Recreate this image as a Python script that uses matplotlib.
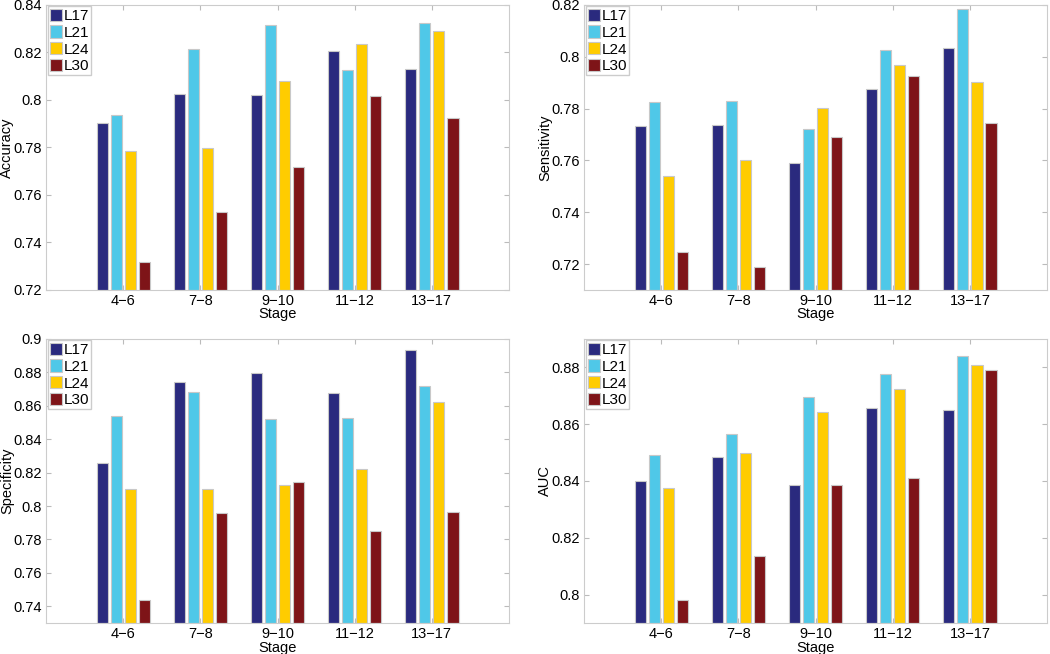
import numpy as np
import matplotlib
matplotlib.use('Agg')
import matplotlib.pyplot as plt

stages = ['4\u22126', '7\u22128', '9\u221210', '11\u221212', '13\u221217']
series = ['L17', 'L21', 'L24', 'L30']
colors = ['#2a2a7e', '#4fc8e8', '#ffcc00', '#7e1418']

accuracy_L17 = [0.7903, 0.8027, 0.8020, 0.8205, 0.8131]
accuracy_L21 = [0.7937, 0.8215, 0.8317, 0.8126, 0.8326]
accuracy_L24 = [0.7784, 0.7796, 0.8080, 0.8236, 0.8289]
accuracy_L30 = [0.7316, 0.7527, 0.7716, 0.8018, 0.7923]

sensitivity_L17 = [0.7734, 0.7735, 0.7591, 0.7874, 0.8035]
sensitivity_L21 = [0.7824, 0.7829, 0.7720, 0.8025, 0.8183]
sensitivity_L24 = [0.7538, 0.7601, 0.7803, 0.7967, 0.7904]
sensitivity_L30 = [0.7246, 0.7190, 0.7691, 0.7926, 0.7745]

specificity_L17 = [0.8260, 0.8741, 0.8795, 0.8675, 0.8936]
specificity_L21 = [0.8537, 0.8683, 0.8523, 0.8527, 0.8717]
specificity_L24 = [0.8100, 0.8105, 0.8126, 0.8220, 0.8621]
specificity_L30 = [0.7440, 0.7957, 0.8142, 0.7853, 0.7963]

auc_L17 = [0.8401, 0.8485, 0.8385, 0.8657, 0.8651]
auc_L21 = [0.8492, 0.8565, 0.8695, 0.8777, 0.8841]
auc_L24 = [0.8375, 0.8497, 0.8644, 0.8725, 0.8809]
auc_L30 = [0.7980, 0.8135, 0.8386, 0.8412, 0.8792]

plt.rcParams['font.family'] = ['Liberation Sans', 'DejaVu Sans']

def plot_panel(ax, data, ylim, yticks, yticklabels, ylabel, stage_y):
    x = np.arange(1, len(stages) + 1)
    n = len(data)
    gw = min(0.8, n / (n + 1.5))
    step = gw / n
    for i, vals in enumerate(data):
        off = (i - (n - 1) / 2.0) * step
        ax.bar(x + off, np.array(vals) - ylim[0], bottom=ylim[0], width=0.8 * step,
               color=colors[i], edgecolor='#c8c8c8', linewidth=0.8, label=series[i], zorder=2)
    ax.set_xlim(0, 6)
    ax.set_ylim(ylim)
    ax.set_xticks(x)
    ax.set_xticklabels(stages, fontsize=10.5)
    ax.set_yticks(yticks)
    ax.set_yticklabels(yticklabels, fontsize=10.5)
    ax.set_xlabel('Stage', fontsize=10.5)
    ax.xaxis.set_label_coords(0.5, stage_y)
    ax.set_ylabel(ylabel, fontsize=10.5)
    ax.yaxis.set_label_coords(-0.069, 0.5)
    for s in ax.spines.values():
        s.set_color('#cccccc')
    ax.tick_params(direction='in', top=True, right=True, color='#bbbbbb', length=3.5,
                   labelcolor='black', pad=3)
    ax.legend(loc='upper left', fontsize=11, handlelength=0.8, handleheight=0.85,
              handletextpad=0.1, labelspacing=0.15, borderpad=0.15, borderaxespad=0.1,
              fancybox=False, edgecolor='#cccccc', framealpha=1)

fig = plt.figure(figsize=(10.5, 6.54), dpi=100)
ax1 = fig.add_axes([0.0438, 0.5566, 0.441, 0.4358])
ax2 = fig.add_axes([0.5562, 0.5566, 0.441, 0.4358])
ax3 = fig.add_axes([0.0438, 0.0474, 0.441, 0.4343])
ax4 = fig.add_axes([0.5562, 0.0474, 0.441, 0.4343])

plot_panel(ax1, [accuracy_L17, accuracy_L21, accuracy_L24, accuracy_L30], (0.72, 0.84),
           [0.72, 0.74, 0.76, 0.78, 0.8, 0.82, 0.84],
           ['0.72', '0.74', '0.76', '0.78', '0.8', '0.82', '0.84'], 'Accuracy', -0.06)
plot_panel(ax2, [sensitivity_L17, sensitivity_L21, sensitivity_L24, sensitivity_L30], (0.71, 0.82),
           [0.72, 0.74, 0.76, 0.78, 0.8, 0.82],
           ['0.72', '0.74', '0.76', '0.78', '0.8', '0.82'], 'Sensitivity', -0.06)
plot_panel(ax3, [specificity_L17, specificity_L21, specificity_L24, specificity_L30], (0.73, 0.9),
           [0.74, 0.76, 0.78, 0.8, 0.82, 0.84, 0.86, 0.88, 0.9],
           ['0.74', '0.76', '0.78', '0.8', '0.82', '0.84', '0.86', '0.88', '0.9'], 'Specificity', -0.062)
plot_panel(ax4, [auc_L17, auc_L21, auc_L24, auc_L30], (0.79, 0.89),
           [0.8, 0.82, 0.84, 0.86, 0.88],
           ['0.8', '0.82', '0.84', '0.86', '0.88'], 'AUC', -0.062)

plt.savefig('out.png', dpi=100)
plt.close()
